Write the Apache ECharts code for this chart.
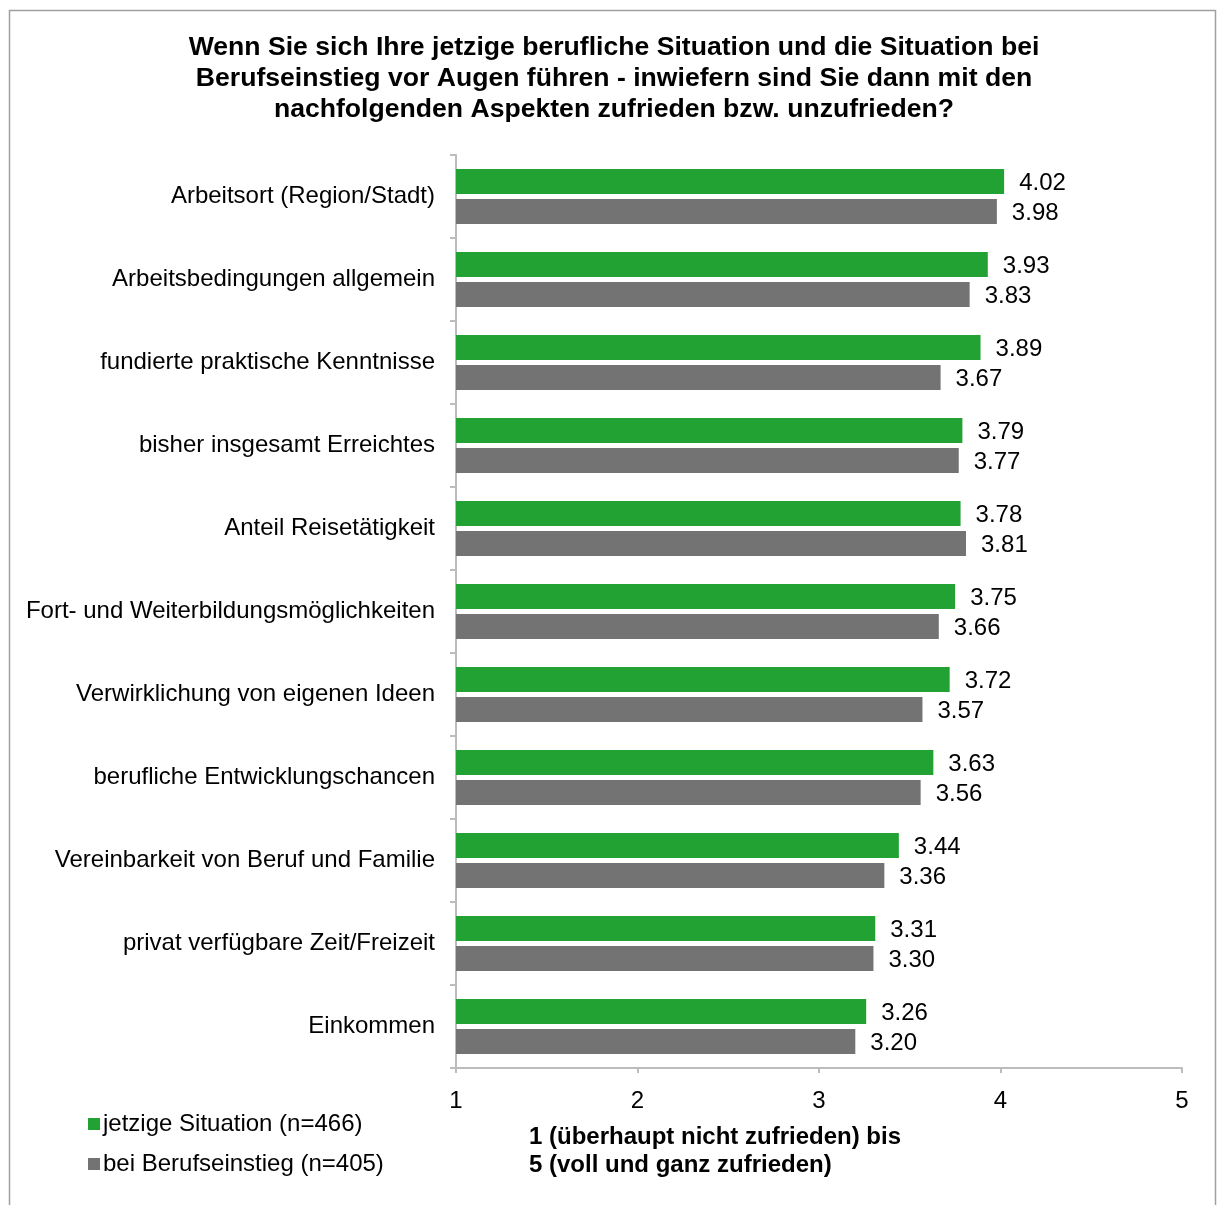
<!DOCTYPE html>
<html>
<head>
<meta charset="utf-8">
<script src="https://cdn.jsdelivr.net/npm/echarts@6/dist/echarts.min.js"></script>
<style>
  html, body { margin: 0; padding: 0; background: #fff; }
  #chart { width: 1218px; height: 1205px; }
</style>
</head>
<body>
<div id="chart"></div>
<script>
const categories = [
  'Arbeitsort (Region/Stadt)',
  'Arbeitsbedingungen allgemein',
  'fundierte praktische Kenntnisse',
  'bisher insgesamt Erreichtes',
  'Anteil Reisetätigkeit',
  'Fort- und Weiterbildungsmöglichkeiten',
  'Verwirklichung von eigenen Ideen',
  'berufliche Entwicklungschancen',
  'Vereinbarkeit von Beruf und Familie',
  'privat verfügbare Zeit/Freizeit',
  'Einkommen'
]
const jetzige = [4.02, 3.93, 3.89, 3.79, 3.78, 3.75, 3.72, 3.63, 3.44, 3.31, 3.26]
const einstieg = [3.98, 3.83, 3.67, 3.77, 3.81, 3.66, 3.57, 3.56, 3.36, 3.30, 3.20]
const seriesNames = ['jetzige Situation (n=466)', 'bei Berufseinstieg (n=405)']
const titleText = 'Wenn Sie sich Ihre jetzige berufliche Situation und die Situation bei\nBerufseinstieg vor Augen führen - inwiefern sind Sie dann mit den\nnachfolgenden Aspekten zufrieden bzw. unzufrieden?'
const axisNameText = '1 (überhaupt nicht zufrieden) bis\n5 (voll und ganz zufrieden)'

const font = 'Liberation Sans, Arial, sans-serif'
const axisColor = '#bcbcbc'

const chart = echarts.init(document.getElementById('chart'))
const barLabel = {
  show: true,
  position: 'right',
  distance: 15,
  offset: [0, 2],
  color: '#000',
  fontSize: 24,
  fontFamily: font,
  formatter: p => p.value.toFixed(2)
}
chart.setOption({
  animation: false,
  legend: {
    orient: 'vertical',
    left: 83,
    top: 1107,
    itemWidth: 12,
    itemHeight: 12,
    itemGap: 16,
    icon: 'rect',
    textStyle: { fontFamily: font, fontSize: 24, color: '#000', padding: [0, 0, 0, -2] },
    data: seriesNames
  },
  grid: { left: 456, right: 36, top: 155, bottom: 137, containLabel: false },
  xAxis: {
    type: 'value',
    min: 1,
    max: 5,
    interval: 1,
    splitLine: { show: false },
    axisLine: { show: true, lineStyle: { color: axisColor, width: 2 } },
    axisTick: { show: true, length: 5, lineStyle: { color: axisColor, width: 2 } },
    axisLabel: { color: '#000', fontSize: 24, fontFamily: font, margin: 21 }
  },
  yAxis: {
    type: 'category',
    inverse: true,
    data: categories,
    axisLine: { show: true, lineStyle: { color: axisColor, width: 2 } },
    axisTick: { show: true, length: 6, lineStyle: { color: axisColor, width: 2 } },
    axisLabel: { color: '#000', fontSize: 24, fontFamily: font, margin: 21, lineHeight: 28, padding: [4, 0, 0, 0] }
  },
  graphic: [
    {
      type: 'rect',
      shape: { x: 9.5, y: 10.5, width: 1206, height: 1210 },
      style: { fill: 'none', stroke: '#a0a0a0', lineWidth: 1.5 },
      silent: true
    },
    {
      type: 'text',
      x: 614,
      y: 32,
      style: {
        text: titleText,
        font: 'bold 26.6px ' + font,
        fill: '#000',
        lineHeight: 31,
        align: 'center'
      }
    },
    {
      type: 'text',
      left: 529,
      top: 1123,
      style: {
        text: axisNameText,
        font: 'bold 24px ' + font,
        fill: '#000',
        lineHeight: 28
      }
    }
  ],
  series: [
    {
      name: seriesNames[0],
      type: 'bar',
      data: jetzige,
      barWidth: 25,
      barGap: '20%',
      itemStyle: { color: '#22a233' },
      label: barLabel
    },
    {
      name: seriesNames[1],
      type: 'bar',
      data: einstieg,
      barWidth: 25,
      itemStyle: { color: '#737373' },
      label: barLabel
    }
  ]
})
</script>
</body>
</html>
